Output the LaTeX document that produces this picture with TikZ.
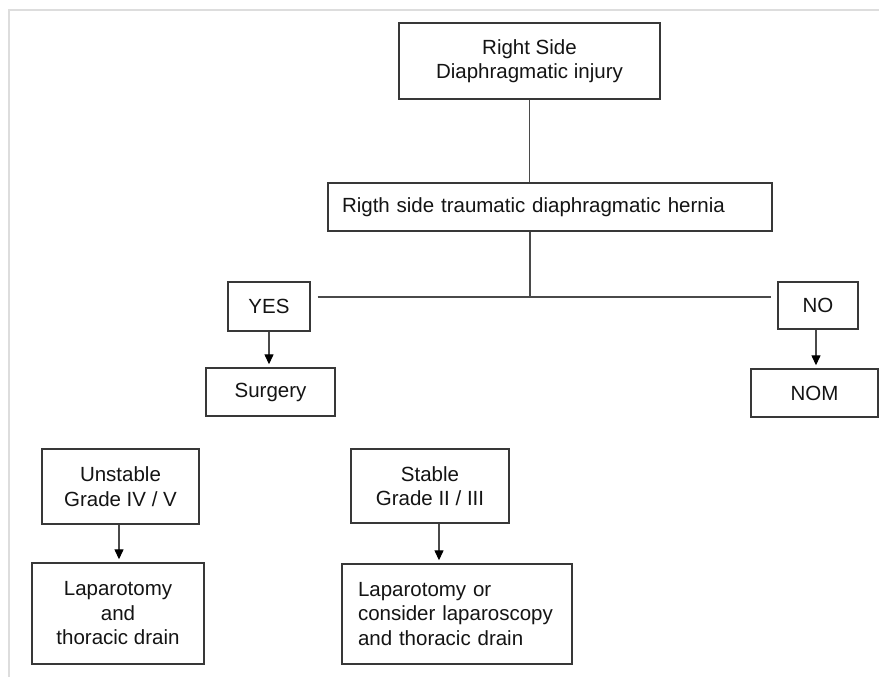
\documentclass[tikz,border=0pt]{standalone}
\usepackage{fontspec}
\setmainfont{Liberation Sans}
\usetikzlibrary{arrows.meta}
\definecolor{boxline}{HTML}{383838}
\definecolor{conline}{HTML}{4A4A4A}
\definecolor{framegray}{HTML}{DDDDDD}
\definecolor{txt}{HTML}{141414}
\tikzset{
  box/.style={draw=boxline, line width=1.4pt, rectangle, align=center, text=txt,
    font=\fontsize{20.5}{24.5}\selectfont},
  conn/.style={draw=conline, line width=1.5pt},
  arr/.style={draw=conline, line width=1.3pt,
    -{Triangle[length=10pt,width=9pt,fill=black,color=black]}, shorten >=3pt},
}
\begin{document}
\begin{tikzpicture}[x=1pt,y=-1pt]
\useasboundingbox (0,0) rectangle (879,677);
\fill[white] (0,0) rectangle (879,677);
% faint frame
\draw[framegray, line width=1.5pt] (9,677) -- (9,10) -- (879,10);

\node[box, minimum width=261pt, minimum height=76pt] (top) at (529.5,61)
  {Right Side\\Diaphragmatic injury};
\node[box, text width=416pt, align=left, inner xsep=14pt, minimum height=48pt]
  (mid) at (550,207) {Rigth side traumatic diaphragmatic hernia};
\node[box, minimum width=82pt, minimum height=49pt] (yes) at (269,306.5) {YES};
\node[box, minimum width=129pt, minimum height=48pt] (surg) at (270.5,392) {Surgery};
\node[box, minimum width=80pt, minimum height=47pt] (no) at (818,305.5) {NO};
\node[box, minimum width=127pt, minimum height=48pt] (nom) at (814.5,393) {NOM};
\node[box, minimum width=157pt, minimum height=75pt] (unst) at (120.5,486.5)
  {Unstable\\Grade IV / V};
\node[box, minimum width=172pt, minimum height=101pt] (lapL) at (118,613.5)
  {Laparotomy\\and\\thoracic drain};
\node[box, minimum width=158pt, minimum height=74pt] (stab) at (430,486)
  {Stable\\Grade II / III};
\node[box, text width=198pt, align=left, inner xsep=16pt, minimum height=100pt]
  (lapR) at (457,614)
  {Laparotomy or\\consider laparoscopy\\and thoracic drain};

\coordinate (j) at (530,297);
\draw[conn] (top.south) -- (top.south |- mid.north);
\draw[conn] (mid.south -| j) -- (j);
\draw[conn] ([xshift=7pt]yes.east |- j) -- ([xshift=-6pt]no.west |- j);

\draw[arr] (yes.south) -- (yes.south |- surg.north);
\draw[arr] ([xshift=-2pt]no.south) -- ([xshift=-2pt]no.south |- nom.north);
\draw[arr] ([xshift=-1.5pt]unst.south) -- ([xshift=-1.5pt]unst.south |- lapL.north);
\draw[arr] ([xshift=9pt]stab.south) -- ([xshift=9pt]stab.south |- lapR.north);
\end{tikzpicture}
\end{document}
